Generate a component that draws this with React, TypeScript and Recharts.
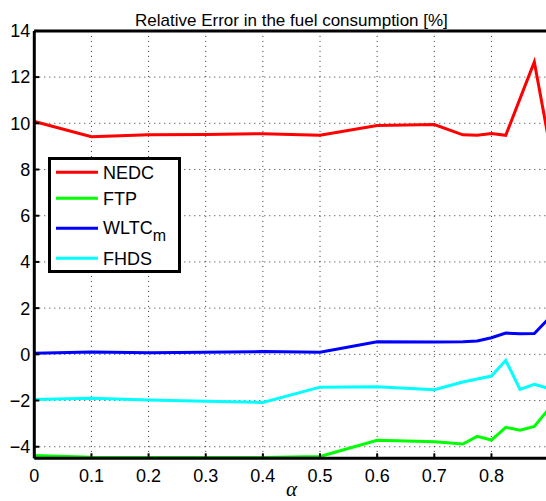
import React from 'react';
import { LineChart, Line, XAxis, YAxis, CartesianGrid, Legend } from 'recharts';

const TITLE = 'Relative Error in the fuel consumption [%]';
const X_LABEL = 'α';

const alpha = [0, 0.1, 0.2, 0.3, 0.4, 0.5, 0.6, 0.7, 0.75, 0.775, 0.8, 0.825, 0.85, 0.875, 0.9];
const nedc = [10.08, 9.42, 9.5, 9.52, 9.55, 9.48, 9.9, 9.95, 9.5, 9.48, 9.56, 9.48, 11.07, 12.66, 9.3];
const ftp = [-4.38, -4.45, -4.46, -4.46, -4.46, -4.42, -3.72, -3.78, -3.88, -3.55, -3.71, -3.16, -3.28, -3.12, -2.37];
const wltc = [0.05, 0.1, 0.07, 0.09, 0.12, 0.09, 0.54, 0.53, 0.55, 0.58, 0.72, 0.92, 0.89, 0.9, 1.54];
const fhds = [-1.95, -1.9, -1.98, -2.03, -2.08, -1.42, -1.4, -1.53, -1.2, -1.07, -0.94, -0.26, -1.52, -1.3, -1.47];

const xTicks = [0, 0.1, 0.2, 0.3, 0.4, 0.5, 0.6, 0.7, 0.8];
const yTicks = [-4, -2, 0, 2, 4, 6, 8, 10, 12, 14];

const SERIES = [
  { key: 'nedc', name: 'NEDC', sub: '', color: '#ff0000' },
  { key: 'ftp', name: 'FTP', sub: '', color: '#00ff00' },
  { key: 'wltc', name: 'WLTC', sub: 'm', color: '#0000ff' },
  { key: 'fhds', name: 'FHDS', sub: '', color: '#00ffff' },
];

const data = alpha.map((a, i) => ({
  alpha: a,
  nedc: nedc[i],
  ftp: ftp[i],
  wltc: wltc[i],
  fhds: fhds[i],
}));

const FONT = '"Liberation Sans", Arial, Helvetica, sans-serif';

const rowLine = [15.3, 41.3, 71.3, 101.3];
const rowBase = [21.5, 47.5, 76.5, 107.5];

const LegendBox = () => (
  <svg width={133} height={116} style={{ display: 'block' }}>
    <rect x={1.5} y={1.5} width={130} height={113} fill="#fff" stroke="#000" strokeWidth={3} />
    {SERIES.map((s, i) => (
      <g key={s.key}>
        <line x1={8} x2={50} y1={rowLine[i]} y2={rowLine[i]} stroke={s.color} strokeWidth={3} />
        <text x={55} y={rowBase[i]} fontFamily={FONT} fontSize={18} fill="#000">
          {s.name}
          {s.sub ? (
            <tspan dy={7} fontSize={16}>
              {s.sub}
            </tspan>
          ) : null}
        </text>
      </g>
    ))}
  </svg>
);

export default function App() {
  return (
    <div style={{ position: 'absolute', left: 0, top: 0, width: 546, height: 501, overflow: 'hidden', background: '#fff' }}>
      <LineChart
        width={560}
        height={501}
        data={data}
        margin={{ top: 29.9, right: 10.4, bottom: 12.7, left: 0 }}
      >
        <CartesianGrid stroke="#333" strokeDasharray="1 4" strokeWidth={1} />
        <XAxis
          dataKey="alpha"
          type="number"
          domain={[0, 0.9]}
          ticks={xTicks}
          allowDataOverflow
          height={30}
          tickSize={-5}
          tickMargin={16}
          axisLine={{ stroke: '#000', strokeWidth: 3 }}
          tickLine={{ stroke: '#000', strokeWidth: 2 }}
          tick={{ fill: '#000', fontSize: 18, fontFamily: FONT }}
          label={{ value: X_LABEL, position: 'bottom', offset: -7, fill: '#000', fontSize: 21, fontStyle: 'italic', fontFamily: '"Liberation Serif", "Times New Roman", serif' }}
        />
        <XAxis
          xAxisId="top"
          dataKey="alpha"
          type="number"
          orientation="top"
          domain={[0, 0.9]}
          ticks={xTicks}
          allowDataOverflow
          height={1}
          tickSize={-5}
          tick={false}
          axisLine={{ stroke: '#000', strokeWidth: 3 }}
          tickLine={{ stroke: '#000', strokeWidth: 2 }}
          label={{ value: TITLE, position: 'top', offset: 4, fill: '#000', fontSize: 17, fontFamily: FONT }}
        />
        <YAxis
          type="number"
          domain={[-4.5, 14]}
          ticks={yTicks}
          allowDataOverflow
          width={34.3}
          tickSize={-5}
          tickMargin={9}
          axisLine={{ stroke: '#000', strokeWidth: 3 }}
          tickLine={{ stroke: '#000', strokeWidth: 2 }}
          tick={{ fill: '#000', fontSize: 18, fontFamily: FONT }}
          tickFormatter={(v: number) => (v < 0 ? '\u2212' + Math.abs(v) : String(v))}
        />
        <YAxis
          yAxisId="right"
          orientation="right"
          type="number"
          domain={[-4.5, 14]}
          ticks={yTicks}
          allowDataOverflow
          width={1}
          tickSize={-5}
          tick={false}
          axisLine={{ stroke: '#000', strokeWidth: 3 }}
          tickLine={{ stroke: '#000', strokeWidth: 2 }}
        />
        <Legend
          layout="vertical"
          align="center"
          verticalAlign="middle"
          content={() => <LegendBox />}
          wrapperStyle={{ left: 48, top: 157, width: 133, height: 116 }}
        />
        {SERIES.map((s) => (
          <Line
            key={s.key}
            dataKey={s.key}
            name={s.name}
            type="linear"
            stroke={s.color}
            strokeWidth={3}
            dot={false}
            activeDot={false}
            isAnimationActive={false}
          />
        ))}
      </LineChart>
    </div>
  );
}
